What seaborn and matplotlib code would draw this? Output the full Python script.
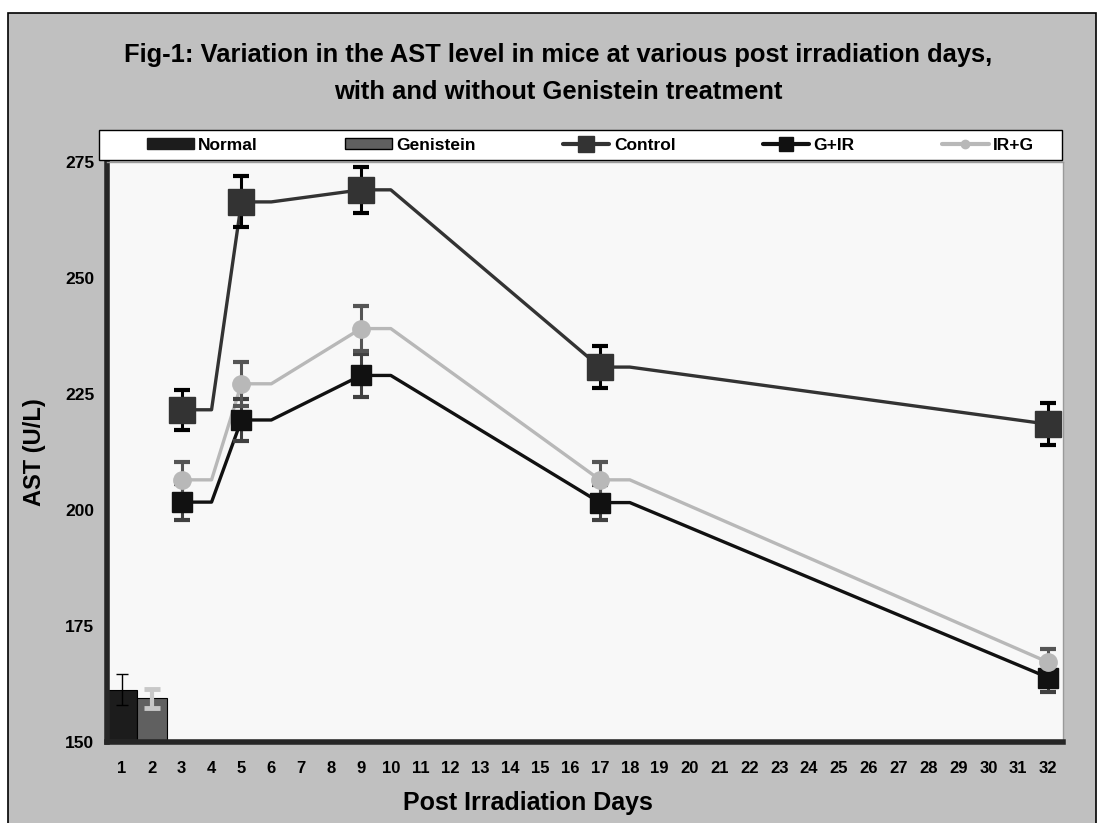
import numpy as np
import pandas as pd
import matplotlib
matplotlib.use("Agg")
import matplotlib.pyplot as plt
from matplotlib.patches import Rectangle, Patch
from matplotlib.lines import Line2D
import seaborn as sns

# ----------------------------------------------------------
# Data
# ----------------------------------------------------------

day_labels = [str(d) for d in range(1, 33)]

bar_days = [1, 2]
bar_groups = ["Normal", "Genistein"]
bar_values = [161.3, 159.4]
bar_errors = [3.3, 2.1]

days = [3, 5, 9, 17, 32]
line_days = [3, 4, 5, 6, 9, 10, 17, 18, 32]

control = [221.6, 266.4, 269.0, 230.8, 218.5]
control_err = [4.3, 5.5, 5.0, 4.5, 4.5]

g_ir = [201.7, 219.4, 229.0, 201.6, 163.9]
g_ir_err = [3.8, 4.5, 4.7, 3.8, 3.1]

ir_g = [206.5, 227.2, 239.1, 206.5, 167.2]
ir_g_err = [3.9, 4.7, 4.8, 3.9, 2.9]

# ----------------------------------------------------------
# Style
# ----------------------------------------------------------

sns.set_style("white")
plt.rcParams["font.family"] = ["Liberation Sans", "DejaVu Sans"]
plt.rcParams["font.weight"] = "bold"
for key in ["text.color", "axes.labelcolor", "xtick.color", "ytick.color"]:
    plt.rcParams[key] = "black"

BG = "#c0c0c0"
PLOT_BG = "#f8f8f8"
C_NORMAL = "#1c1c1c"
C_GEN = "#606060"
C_CONTROL = "#333333"
C_GIR = "#111111"
C_IRG = "#b8b8b8"

W, H = 1098, 823

fig = plt.figure(figsize=(W / 100, H / 100), dpi=100, facecolor="white")
fig.patches.append(Rectangle((8 / W, -0.01), 1088 / W, 1 - 13 / H + 0.01,
                             transform=fig.transFigure, facecolor=BG,
                             edgecolor="black", linewidth=1.2, zorder=-5))

ax = fig.add_axes([107 / W, 1 - 742 / H, (1063 - 107) / W, (742 - 162) / H])
ax.set_facecolor(PLOT_BG)

# ----------------------------------------------------------
# Bars
# ----------------------------------------------------------

bars = pd.DataFrame({"day": bar_days, "group": bar_groups, "value": bar_values})
sns.barplot(data=bars, x="day", y="value", hue="group", native_scale=True,
            palette=[C_NORMAL, C_GEN], width=1.0, dodge=False, legend=False,
            edgecolor="black", linewidth=0.8, errorbar=None, ax=ax, zorder=2)
ax.errorbar(bar_days[0], bar_values[0], yerr=bar_errors[0], fmt="none",
            ecolor="black", elinewidth=1.0, capsize=4, capthick=1.0, zorder=3)
ax.errorbar(bar_days[1], bar_values[1], yerr=bar_errors[1], fmt="none",
            ecolor="#c8c8c8", elinewidth=3.0, capsize=5.5, capthick=3.5, zorder=3)

# ----------------------------------------------------------
# Lines
# ----------------------------------------------------------

series = [
    ("Control", control, control_err, C_CONTROL, "s", 19, "black", 6),
    ("G+IR", g_ir, g_ir_err, C_GIR, "s", 14, "#404040", 6),
    ("IR+G", ir_g, ir_g_err, C_IRG, "o", 12.5, "#555555", 6),
]

for name, vals, errs, col, mk, ms, ecol, cap in series:
    path = np.repeat(vals, 2)[:-1]
    sns.lineplot(x=line_days, y=path, sort=False, color=col, linewidth=2.4,
                 ax=ax, zorder=4)
for name, vals, errs, col, mk, ms, ecol, cap in series:
    ax.errorbar(days, vals, yerr=errs, fmt="none", ecolor=ecol, elinewidth=2.2,
                capsize=cap, capthick=3.0, zorder=5)
for name, vals, errs, col, mk, ms, ecol, cap in series:
    ax.plot(days, vals, linestyle="none", marker=mk, markersize=ms,
            markerfacecolor=col, markeredgecolor=col, zorder=6)

# ----------------------------------------------------------
# Axes
# ----------------------------------------------------------

ax.set_xlim(0.5, 32.5)
ax.set_ylim(150, 275)
ax.set_yticks([150, 175, 200, 225, 250, 275])
ax.set_xticks(np.arange(0.5, 33, 1))
ax.set_xticklabels([])
ax.set_xticks(range(1, 33), minor=True)
ax.set_xticklabels(day_labels, minor=True)
ax.tick_params(axis="x", which="major", length=7, width=3.5, direction="out", color="black")
ax.tick_params(axis="x", which="minor", length=0, pad=14, labelsize=12)
ax.tick_params(axis="y", length=6, width=3.5, direction="out", color="black",
               labelsize=12.5, pad=3)
for lab in ax.get_xticklabels(minor=True) + ax.get_yticklabels():
    lab.set_fontweight("bold")

ax.spines["left"].set_linewidth(4)
ax.spines["bottom"].set_linewidth(4)
ax.spines["top"].set_color("#9a9a9a")
ax.spines["right"].set_color("#9a9a9a")
ax.spines["top"].set_linewidth(1)
ax.spines["right"].set_linewidth(1)
ax.set_xlabel("")
ax.set_ylabel("")

fig.text(35 / W, 1 - 452 / H, "AST (U/L)", rotation=90, ha="center", va="center",
         fontsize=17, fontweight="bold")
fig.text(528 / W, 1 - 803 / H, "Post Irradiation Days", ha="center", va="center",
         fontsize=18, fontweight="bold")

fig.text(558 / W, 1 - 55 / H,
         "Fig-1: Variation in the AST level in mice at various post irradiation days,",
         ha="center", va="center", fontsize=18.4, fontweight="bold")
fig.text(558 / W, 1 - 92 / H, "with and without Genistein treatment",
         ha="center", va="center", fontsize=18.4, fontweight="bold")

# ----------------------------------------------------------
# Legend
# ----------------------------------------------------------

fig.patches.append(Rectangle((99 / W, 1 - 160 / H), (1062 - 99) / W, 30 / H,
                             transform=fig.transFigure, facecolor="white",
                             edgecolor="black", linewidth=1.0, zorder=1))

handles = [
    Patch(facecolor=C_NORMAL, edgecolor=C_NORMAL, label="Normal"),
    Patch(facecolor=C_GEN, edgecolor="black", label="Genistein"),
    Line2D([], [], color=C_CONTROL, lw=3, marker="s", markersize=12, label="Control"),
    Line2D([], [], color=C_GIR, lw=3, marker="s", markersize=10, label="G+IR"),
    Line2D([], [], color=C_IRG, lw=3, marker="o", markersize=6, label="IR+G"),
]
leg = fig.legend(handles=handles, ncol=5, mode="expand", loc="center",
                 bbox_to_anchor=(145 / W, 1 - 158 / H, (1036 - 145) / W, 26 / H),
                 frameon=False, prop={"size": 12.5, "weight": "bold"},
                 handlelength=2.7, handleheight=0.6, handletextpad=0.25,
                 borderpad=0.1, borderaxespad=0)
leg.set_zorder(2)

fig.savefig("out.png", dpi=100, facecolor="white")
